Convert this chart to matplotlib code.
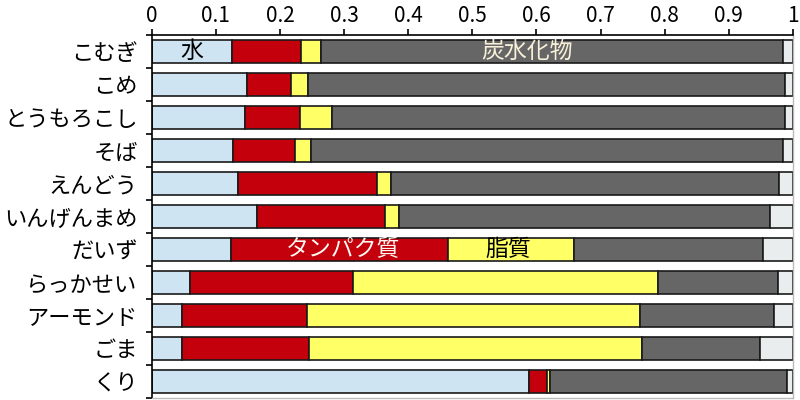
import matplotlib
matplotlib.use("Agg")
import matplotlib.pyplot as plt
import numpy as np

plt.rcParams['font.family'] = ['Noto Sans CJK JP', 'DejaVu Sans']

foods = ["こむぎ", "こめ", "とうもろこし", "そば", "えんどう", "いんげんまめ",
         "だいず", "らっかせい", "アーモンド", "ごま", "くり"]
water = [12.5, 14.9, 14.5, 12.7, 13.4, 16.5, 12.4, 6.0, 4.7, 4.7, 58.8]
protein = [10.8, 6.8, 8.6, 9.7, 21.7, 19.9, 33.8, 25.4, 19.6, 19.8, 2.8]
fat = [3.1, 2.7, 5.0, 2.4, 2.3, 2.2, 19.7, 47.5, 51.8, 51.9, 0.5]
carb = [72.1, 74.3, 70.6, 73.7, 60.4, 57.8, 29.5, 18.8, 20.9, 18.4, 36.9]
ash = [1.6, 1.2, 1.3, 1.5, 2.2, 3.6, 4.6, 2.3, 3.0, 5.2, 1.0]
xticks = [0, 0.1, 0.2, 0.3, 0.4, 0.5, 0.6, 0.7, 0.8, 0.9, 1]
xticklabels = ["0", "0.1", "0.2", "0.3", "0.4", "0.5", "0.6", "0.7", "0.8", "0.9", "1"]

series = [water, protein, fat, carb, ash]
colors = ["#cfe4f2", "#c4000c", "#ffff66", "#666666", "#e9edee"]

fig = plt.figure(figsize=(8, 4), dpi=100)
ax = fig.add_axes([151.6 / 800, 2 / 400, (793 - 151.6) / 800, (365 - 2) / 400])

data = np.array(series, dtype=float)
totals = data.sum(axis=0)
frac = data / totals
y = np.arange(len(foods))
left = np.zeros(len(foods))
for vals, c in zip(frac, colors):
    ax.barh(y, vals, left=left, height=0.72, color=c, edgecolor="#1a1a1a", linewidth=1.2)
    left = left + vals

ax.set_xlim(0, 1)
ax.set_ylim(len(foods) - 0.5, -0.5)
ax.xaxis.tick_top()
ax.set_xticks(xticks)
ax.set_xticklabels(xticklabels, fontsize=15)
ax.tick_params(axis='x', direction='out', length=4, width=1.2, pad=2, colors='black')

ax.set_yticks(np.arange(len(foods) + 1) - 0.5)
ax.set_yticklabels([])
ax.tick_params(axis='y', which='major', direction='out', length=4, width=1.2)
ax.set_yticks(y, minor=True)
ax.set_yticklabels(foods, minor=True, fontsize=16)
ax.tick_params(axis='y', which='minor', length=0, pad=10)

for s in ['top', 'left']:
    ax.spines[s].set_color('black')
    ax.spines[s].set_linewidth(1.2)
for s in ['right', 'bottom']:
    ax.spines[s].set_color('#bbbbbb')
    ax.spines[s].set_linewidth(1.0)

ax.text(0.063, 0, "水", ha='center', va='center', fontsize=16.5, color='black')
ax.text(0.586, 0, "炭水化物", ha='center', va='center', fontsize=16.5, color='#f8f0d8')
ax.text(0.298, 6, "タンパク質", ha='center', va='center', fontsize=16.5, color='#fff8f0')
ax.text(0.556, 6, "脂質", ha='center', va='center', fontsize=16.5, color='black')

fig.savefig("out.png", dpi=100)
